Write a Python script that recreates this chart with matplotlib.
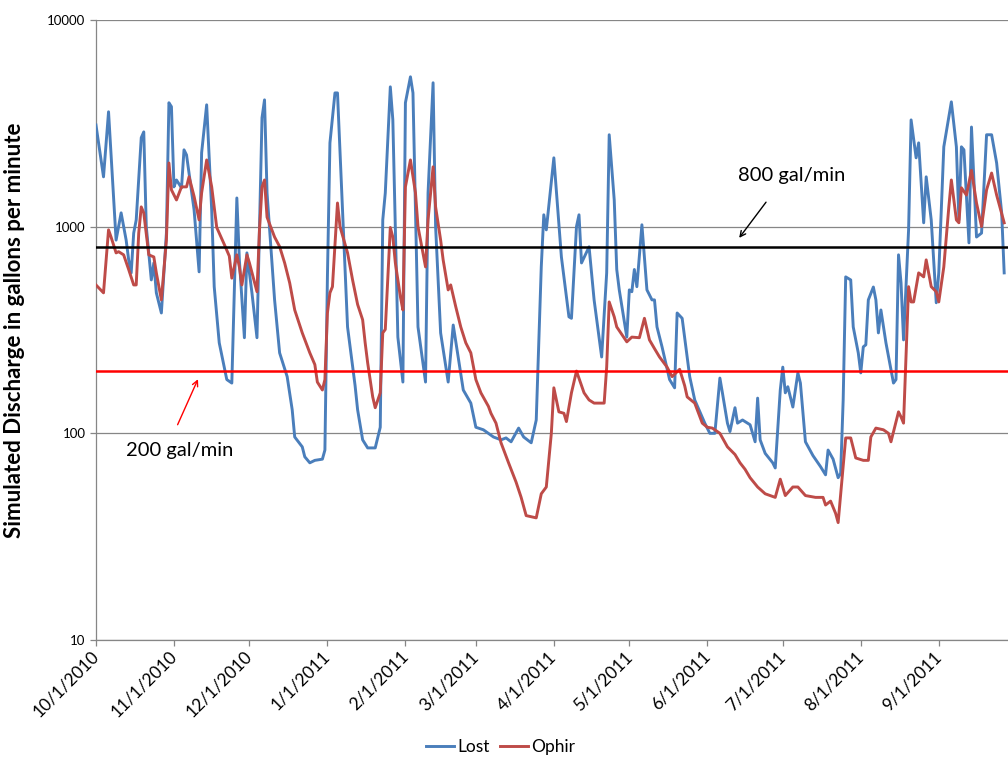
import datetime as dt
import matplotlib
matplotlib.use('Agg')
import matplotlib.pyplot as plt
import matplotlib.dates as mdates
import matplotlib.ticker as mticker

plt.rcParams['font.family'] = ['Lato', 'DejaVu Sans']

INICIO = dt.date(2010, 10, 1)

# dias desde 10/1/2010 y caudal simulado (gal/min)
lost_dia = [0, 3, 5, 8, 10, 12, 13, 14, 15, 16,
            18, 19, 20, 22, 23, 24, 26, 28, 29, 30,
            31, 32, 34, 35, 36, 39, 41, 42, 44, 46,
            47, 49, 52, 54, 56, 57, 59, 60, 62, 64,
            66, 67, 68, 71, 73, 76, 78, 79, 82, 83,
            85, 87, 90, 91, 92, 93, 95, 96, 98, 100,
            103, 104, 106, 108, 111, 113, 114, 115, 117, 118,
            120, 122, 123, 125, 126, 128, 131, 132, 134, 135,
            137, 140, 142, 146, 149, 151, 154, 158, 161, 163,
            165, 168, 170, 173, 175, 177, 178, 179, 182, 185,
            188, 189, 191, 192, 193, 196, 198, 201, 203, 204,
            206, 207, 208, 211, 212, 213, 214, 215, 217, 219,
            221, 222, 223, 225, 228, 230, 231, 233, 236, 238,
            242, 244, 246, 248, 249, 251, 252, 254, 255, 256,
            257, 260, 262, 263, 264, 266, 269, 270, 272, 273,
            274, 275, 277, 279, 280, 282, 285, 288, 290, 291,
            293, 295, 296, 297, 298, 300, 301, 303, 304, 305,
            306, 307, 309, 310, 311, 312, 314, 317, 318, 319,
            320, 321, 323, 324, 326, 327, 329, 330, 332, 334,
            335, 337, 340, 342, 343, 344, 345, 347, 348, 350,
            352, 354, 356, 358, 360, 361]
lost_gpm = [3100, 1740, 3590, 860, 1165, 860, 690, 597, 930, 1077,
            2690, 2870, 1000, 552, 667, 478, 382, 930, 3970, 3800,
            1556, 1680, 1540, 2350, 2220, 1205, 604, 2275, 3880, 1205,
            512, 274, 182, 175, 1375, 690, 290, 746, 478, 290,
            3360, 4100, 1455, 442, 245, 188, 130, 96, 86, 77,
            72, 74, 75, 83, 571, 2540, 4430, 4430, 1205, 327,
            170, 130, 93, 85, 85, 107, 1077, 1455, 4740, 3280,
            292, 177, 3970, 5300, 4430, 327, 177, 1455, 4960, 1000,
            306, 177, 334, 162, 140, 107, 104, 96, 93, 95,
            91, 106, 96, 90, 116, 638, 1140, 964, 2150, 713,
            366, 360, 1000, 1140, 667, 798, 442, 234, 597, 2780,
            1345, 620, 494, 292, 494, 484, 620, 512, 1020, 494,
            442, 442, 327, 262, 182, 166, 382, 360, 188, 145,
            112, 100, 100, 185, 157, 112, 102, 133, 112, 114,
            116, 110, 91, 148, 93, 80, 72, 68, 162, 209,
            157, 168, 134, 196, 175, 91, 78, 69, 63, 83,
            75, 61, 64, 145, 571, 552, 327, 245, 196, 262,
            268, 442, 510, 442, 306, 395, 274, 175, 182, 730,
            534, 283, 964, 3280, 2150, 2540, 1043, 1740, 1077, 428,
            597, 2430, 4010, 2430, 1077, 2430, 2350, 834, 3030, 890,
            930, 2780, 2780, 2030, 1165, 597]

ophir_dia = [0, 3, 5, 6, 8, 9, 11, 13, 15, 16,
             17, 18, 19, 21, 23, 24, 26, 28, 29, 30,
             32, 34, 36, 37, 39, 41, 42, 44, 46, 48,
             51, 53, 54, 56, 57, 58, 60, 61, 64, 65,
             66, 67, 68, 71, 73, 75, 77, 79, 82, 85,
             87, 88, 90, 91, 92, 93, 94, 96, 97, 100,
             102, 104, 106, 107, 108, 110, 111, 113, 114, 115,
             117, 118, 119, 121, 122, 123, 125, 127, 128, 131,
             132, 134, 135, 137, 138, 140, 141, 143, 145, 147,
             149, 151, 153, 156, 157, 159, 161, 164, 167, 169,
             171, 175, 177, 179, 181, 182, 184, 186, 187, 189,
             191, 194, 196, 198, 202, 203, 204, 206, 207, 211,
             213, 216, 218, 220, 222, 224, 227, 229, 232, 234,
             235, 238, 241, 243, 245, 248, 251, 254, 256, 258,
             260, 263, 266, 270, 272, 274, 277, 279, 282, 286,
             289, 290, 292, 294, 295, 297, 298, 300, 302, 305,
             307, 308, 310, 313, 315, 316, 319, 320, 321, 323,
             324, 325, 327, 329, 330, 332, 334, 335, 337, 339,
             340, 342, 343, 344, 346, 348, 350, 352, 354, 356,
             358, 361]
ophir_gpm = [522, 478, 964, 890, 746, 756, 730, 620, 522, 522,
             930, 1245, 1165, 730, 713, 597, 442, 860, 2030, 1505,
             1345, 1556, 1556, 1740, 1400, 1077, 1455, 2100, 1556, 990,
             820, 720, 563, 730, 638, 522, 730, 667, 484, 964,
             1556, 1680, 1110, 890, 800, 667, 534, 395, 306, 245,
             215, 177, 162, 182, 382, 478, 512, 1300, 1000, 746,
             552, 420, 354, 274, 219, 150, 133, 157, 306, 318,
             990, 890, 667, 458, 395, 1556, 2100, 1455, 1000, 638,
             1077, 1945, 1245, 860, 690, 494, 522, 410, 327, 274,
             245, 182, 157, 135, 125, 112, 90, 72, 58, 49,
             40, 39, 51, 55, 100, 166, 127, 125, 114, 157,
             200, 157, 145, 140, 140, 209, 432, 366, 327, 277,
             292, 290, 360, 283, 257, 234, 209, 188, 204, 170,
             150, 140, 112, 107, 106, 100, 86, 79, 72, 67,
             61, 55, 51, 49, 60, 50, 55, 55, 50, 49,
             49, 45, 47, 41, 37, 69, 95, 95, 76, 74,
             74, 96, 106, 104, 100, 91, 127, 120, 112, 512,
             432, 432, 597, 571, 690, 512, 484, 432, 638, 1245,
             1680, 1077, 1043, 1540, 1420, 1870, 1300, 1000, 1505, 1815,
             1420, 1043]

umbral_alto = 800
umbral_bajo = 200
meses_ticks = [dt.date(2010 + (9 + i) // 12, (9 + i) % 12 + 1, 1) for i in range(12)]

fechas_lost = [INICIO + dt.timedelta(days=d) for d in lost_dia]
fechas_ophir = [INICIO + dt.timedelta(days=d) for d in ophir_dia]

AZUL = '#4a7ebb'
ROJO = '#be4b48'
GRIS = '#868686'

fig = plt.figure(figsize=(10.08, 7.62), dpi=100)
ax = fig.add_axes([0.0952, 0.160, 0.911, 0.814])

ax.plot(fechas_lost, lost_gpm, color=AZUL, linewidth=2.1, label='Lost', zorder=3)
ax.plot(fechas_ophir, ophir_gpm, color=ROJO, linewidth=2.1, label='Ophir', zorder=3)

ax.axhline(umbral_alto, color='black', linewidth=1.8, zorder=4)
ax.axhline(umbral_bajo, color='#ff0000', linewidth=1.8, zorder=4)

ax.set_yscale('log')
ax.set_ylim(10, 10000)
ax.set_xlim(INICIO, dt.date(2011, 10, 1))

ax.yaxis.set_major_locator(mticker.FixedLocator([10, 100, 1000, 10000]))
ax.yaxis.set_minor_locator(mticker.NullLocator())
ax.yaxis.set_major_formatter(mticker.FuncFormatter(lambda v, _: f'{v:.0f}'))
ax.grid(axis='y', color=GRIS, linewidth=0.9, zorder=1)

ax.set_xticks(meses_ticks)
ax.xaxis.set_major_formatter(mticker.FuncFormatter(
    lambda v, _: f'{mdates.num2date(v).month}/{mdates.num2date(v).day}/{mdates.num2date(v).year}'))

ax.tick_params(axis='both', colors=GRIS, labelcolor='black', length=4, width=0.9)
ax.tick_params(axis='y', labelsize=9.5)
ax.tick_params(axis='x', labelsize=12.5, pad=6)
for lbl in ax.get_xticklabels():
    lbl.set_rotation(45)
    lbl.set_ha('right')
    lbl.set_va('center')
    lbl.set_rotation_mode('anchor')

for lado in ['top', 'right']:
    ax.spines[lado].set_visible(False)
for lado in ['left', 'bottom']:
    ax.spines[lado].set_color(GRIS)
    ax.spines[lado].set_linewidth(0.9)

ax.set_ylabel('Simulated Discharge in gallons per minute', fontsize=16,
              fontweight='bold')
ax.yaxis.set_label_coords(-0.077, 0.5)

# anotaciones de umbrales
ax.text(INICIO + dt.timedelta(days=255), 1760, '800 gal/min', fontsize=14.5,
        ha='left', va='center', color='black')
ax.annotate('', xy=(INICIO + dt.timedelta(days=255), 860),
            xytext=(INICIO + dt.timedelta(days=267), 1345),
            arrowprops=dict(arrowstyle='->', color='black', lw=1.0))
ax.text(INICIO + dt.timedelta(days=12), 83, '200 gal/min', fontsize=14.5,
        ha='left', va='center', color='black')
ax.annotate('', xy=(INICIO + dt.timedelta(days=41), 188),
            xytext=(INICIO + dt.timedelta(days=32), 107),
            arrowprops=dict(arrowstyle='->', color='#ff0000', lw=1.0))

fig.legend(loc='center', bbox_to_anchor=(0.497, 0.02), ncol=2, frameon=False,
           fontsize=12.5, handlelength=1.6, handletextpad=0.2, columnspacing=0.6)

plt.savefig('out.png', dpi=100)
plt.close()
